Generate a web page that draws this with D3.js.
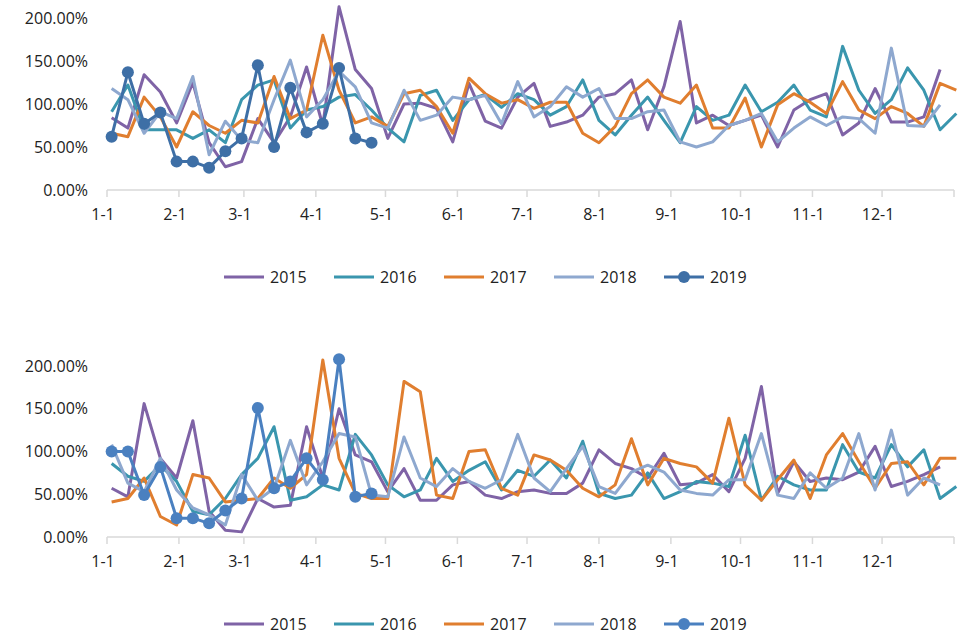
<!doctype html>
<html>
<head>
<script src="https://d3js.org/d3.v7.min.js"></script>
<style>
  body { margin: 0; background: #fff; }
  text { font-family: "Open Sans", sans-serif; font-size: 16px; fill: #222; }
</style>
</head>
<body>
<script>
// month tick labels, placed at the first day of each month
var monthLabels = ["1-1","2-1","3-1","4-1","5-1","6-1","7-1","8-1","9-1","10-1","11-1","12-1"];
var monthStarts = [0,31,59,90,120,151,181,212,243,273,304,334,365];
var yTicks = [0, 50, 100, 150, 200];
var years = ["2015","2016","2017","2018","2019"];
var colorsTop = ["#7f63a6","#3a96ae","#e07e2f","#8ea8cf","#3e6fa6"];
var colorsBottom = ["#7f63a6","#3a96ae","#e07e2f","#8ea8cf","#4a80c0"];

// top panel, weekly values (%)
var top2015 = [84,72,134,114,78,125,55,27,33,83,55,85,143,75,213,140,118,60,100,101,95,56,124,80,72,108,124,74,79,87,108,112,128,70,120,196,78,87,75,81,87,50,93,105,112,64,78,118,79,79,85,140];
var top2016 = [91,122,70,70,70,60,70,55,105,122,128,72,93,97,108,111,93,72,56,110,116,81,105,111,96,112,105,87,97,128,81,64,87,108,81,55,97,81,87,122,91,102,122,93,85,167,116,89,105,142,116,70,89];
var top2017 = [66,62,108,85,50,91,75,66,81,78,132,83,93,180,116,78,85,74,112,116,97,66,130,112,101,105,95,102,102,66,55,74,112,128,108,101,122,72,72,107,50,99,112,102,89,126,93,83,97,89,74,124,116];
var top2018 = [118,105,66,91,83,132,41,80,58,55,105,151,85,105,138,120,78,72,116,81,87,108,105,110,77,126,85,97,120,108,118,83,83,91,93,56,50,56,75,81,89,56,72,85,75,85,83,66,165,75,74,99];
var top2019 = [62,137,77,90,33,33,26,45,60,145,50,119,67,77,142,60,55];

// bottom panel, weekly values (%)
var bot2015 = [57,47,156,92,69,136,30,8,6,45,35,37,129,69,150,96,88,53,80,43,43,61,65,49,45,53,55,51,51,63,102,86,80,69,98,61,63,73,53,92,176,51,88,65,69,67,76,106,59,65,73,82];
var bot2016 = [86,71,65,84,65,30,26,45,73,92,129,43,47,61,55,120,96,61,47,55,92,65,78,88,55,78,71,90,69,112,51,45,49,75,45,53,65,63,59,119,43,71,61,55,55,108,76,69,108,82,102,45,59];
var bot2017 = [41,45,69,24,14,73,69,41,43,45,69,57,73,207,92,51,45,45,182,170,49,45,100,102,57,49,96,90,78,57,47,61,115,61,92,86,82,63,139,61,43,67,90,45,96,121,88,57,86,88,61,92,92];
var bot2018 = [108,63,53,92,55,34,26,14,73,43,57,113,61,88,121,117,49,47,117,69,59,80,65,57,67,120,69,53,80,106,59,51,76,84,76,55,51,49,67,67,121,49,45,75,57,69,121,55,125,49,69,61];
var bot2019 = [100,100,49,82,22,22,16,31,45,151,57,65,92,67,208,47,51];

var W = 962, H = 635;
var svg = d3.select("body").append("svg").attr("width", W).attr("height", H);

var x = d3.scaleLinear().domain([0, 365]).range([107, 954]);
function weekDay(i) { return 7 * i + 2; }

function panel(series, colors, y0, y1, markR, legendY) {
  var y = d3.scaleLinear().domain([0, 200]).range([y0, y1]);
  var g = svg.append("g");

  // y labels
  g.selectAll(".yl").data(yTicks).enter().append("text")
    .attr("x", 88).attr("y", function(d) { return y(d); }).attr("dy", ".35em")
    .attr("text-anchor", "end")
    .text(function(d) { return d.toFixed(2) + "%"; });

  // x axis line and ticks
  g.append("line").attr("x1", x(0)).attr("x2", x(365))
    .attr("y1", y0).attr("y2", y0).attr("stroke", "#d9d9d9").attr("stroke-width", 1.5);
  g.selectAll(".xt").data(monthStarts).enter().append("line")
    .attr("x1", function(d) { return x(d); }).attr("x2", function(d) { return x(d); })
    .attr("y1", y0).attr("y2", y0 + 7).attr("stroke", "#d9d9d9").attr("stroke-width", 1.5);
  g.selectAll(".xl").data(monthLabels).enter().append("text")
    .attr("x", function(d, i) { return x(monthStarts[i]) - 4; })
    .attr("y", y0 + 30).attr("text-anchor", "middle")
    .text(function(d) { return d; });

  var line = d3.line()
    .x(function(d, i) { return x(weekDay(i)); })
    .y(function(d) { return y(d); });

  series.forEach(function(s, k) {
    g.append("path").datum(s).attr("d", line)
      .attr("fill", "none").attr("stroke", colors[k]).attr("stroke-width", 3)
      .attr("stroke-linejoin", "round");
  });
  var last = series[4];
  g.selectAll(".pt").data(last).enter().append("circle")
    .attr("cx", function(d, i) { return x(weekDay(i)); })
    .attr("cy", function(d) { return y(d); })
    .attr("r", markR).attr("fill", colors[4]);

  // legend
  var lg = g.selectAll(".lg").data(years).enter().append("g")
    .attr("transform", function(d, i) { return "translate(" + (224 + i * 110) + "," + legendY + ")"; });
  lg.append("line").attr("x1", 0).attr("x2", 40).attr("y1", 0).attr("y2", 0)
    .attr("stroke", function(d, i) { return colors[i]; }).attr("stroke-width", 3);
  lg.filter(function(d, i) { return i === 4; }).append("circle")
    .attr("cx", 20).attr("cy", 0).attr("r", markR).attr("fill", colors[4]);
  lg.append("text").attr("x", 46).attr("y", 0).attr("dy", ".35em").text(function(d) { return d; });
}

panel([top2015, top2016, top2017, top2018, top2019], colorsTop, 190, 18, 6, 277);
panel([bot2015, bot2016, bot2017, bot2018, bot2019], colorsBottom, 537, 366, 6, 624);
</script>
</body>
</html>
